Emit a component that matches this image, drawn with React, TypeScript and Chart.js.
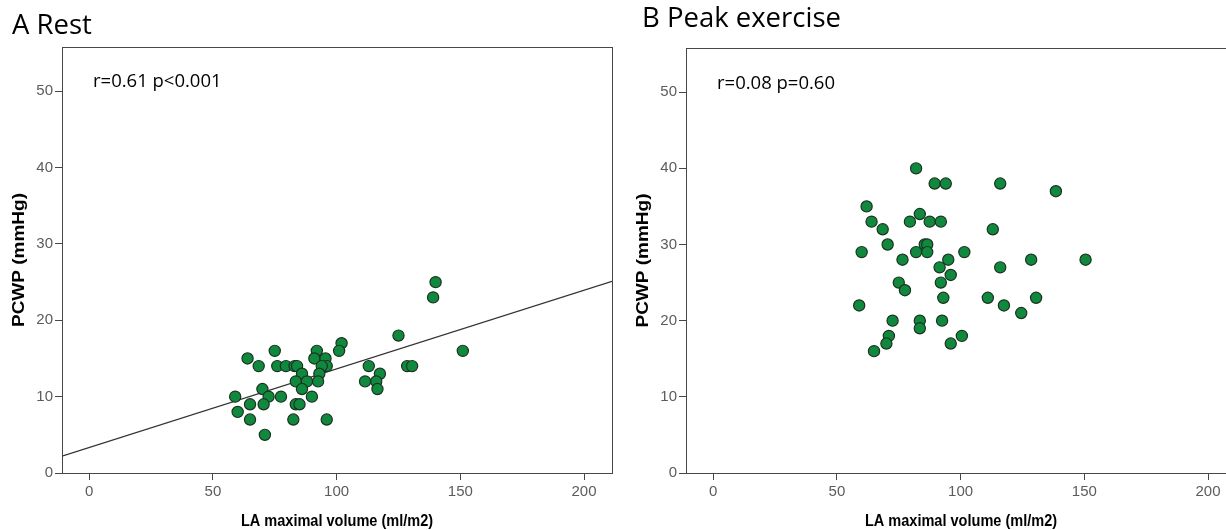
import React, { useEffect, useRef } from "react";
import { Chart, registerables } from "chart.js";

Chart.register(...registerables);

// ---- data ----
const restX = [140, 139, 125, 151, 102, 101, 92, 91, 95.5, 96, 94, 93, 92.5, 64, 75, 68.5, 76, 79.5, 83, 84, 86, 83.5, 88, 86, 70, 72.5, 77.5, 90, 59, 60, 65, 70.5, 83.5, 85, 65, 82.5, 96, 71, 113, 117.5, 111.5, 116, 116.5, 128.5, 130.5];
const restY = [25, 23, 18, 16, 17, 16, 16, 15, 15, 14, 14, 13, 12, 15, 16, 14, 14, 14, 14, 14, 13, 12, 12, 11, 11, 10, 10, 10, 10, 8, 9, 9, 9, 9, 7, 7, 7, 5, 14, 13, 12, 12, 11, 14, 14];

const peakX = [62, 64, 68.5, 70.5, 60, 76.5, 75, 77.5, 59, 72.5, 71, 70, 65, 82, 89.5, 94, 116, 138.5, 83.5, 79.5, 87.5, 92, 113, 85.5, 86.5, 82, 86.5, 101.5, 95, 128.5, 150.5, 91.5, 116, 96, 92, 93, 111, 130.5, 117.5, 124.5, 83.5, 83.5, 92.5, 100.5, 96];
const peakY = [35, 33, 32, 30, 29, 28, 25, 24, 22, 20, 18, 17, 16, 40, 38, 38, 38, 37, 34, 33, 33, 33, 32, 30, 30, 29, 29, 29, 28, 28, 28, 27, 27, 26, 25, 23, 23, 23, 22, 21, 20, 19, 20, 18, 17];

// regression line (rest) endpoints read at the plot edges
const restFitX = [-11, 211.3];
const restFitY = [2.2, 25.1];

const xTicks = [0, 50, 100, 150, 200];
const yTicks = [0, 10, 20, 30, 40, 50];

const X_MIN = -11;
const X_MAX = 211.3;
const Y_MIN = 0;
const Y_MAX = 55.8;

const X_TITLE = "LA maximal volume (ml/m2)";
const Y_TITLE = "PCWP (mmHg)";

const panelTextPlugin = {
  id: "panelText",
  afterDraw(chart: any, _args: any, opts: any) {
    const ctx = chart.ctx;
    const a = chart.chartArea;
    ctx.save();
    ctx.strokeStyle = "#474747";
    ctx.lineWidth = 1;
    ctx.strokeRect(Math.round(a.left) + 0.5, Math.round(a.top) + 0.5, Math.round(a.right - a.left), Math.round(a.bottom - a.top));
    ctx.fillStyle = "#000";
    ctx.textBaseline = "alphabetic";
    ctx.textAlign = "left";
    ctx.font = "27.5px 'Open Sans'";
    ctx.fillText(opts.title, opts.titleX, opts.titleY);
    ctx.font = "18.5px 'Open Sans'";
    ctx.fillText(opts.note, a.left + 31, opts.noteY);

    // axis titles
    ctx.textAlign = "center";
    ctx.textBaseline = "middle";
    ctx.font = "bold 17px 'Liberation Sans', Arial, sans-serif";
    ctx.save();
    ctx.translate((a.left + a.right) / 2, 521);
    ctx.scale(0.855, 1);
    ctx.fillText(X_TITLE, 0, 0);
    ctx.restore();

    ctx.font = "bold 19px 'Liberation Sans', Arial, sans-serif";
    ctx.save();
    ctx.translate(19, (a.top + a.bottom) / 2);
    ctx.rotate(-Math.PI / 2);
    ctx.scale(1, 0.88);
    ctx.fillText(Y_TITLE, 0, 0);
    ctx.restore();
    ctx.restore();
  },
};

type PanelProps = {
  xs: number[];
  ys: number[];
  fitX?: number[];
  fitY?: number[];
  title: string;
  titleX: number;
  titleY: number;
  note: string;
  noteY: number;
  top: number;
};

function Panel(props: PanelProps) {
  const ref = useRef<HTMLCanvasElement>(null);
  useEffect(() => {
    if (!ref.current) return;
    const pts = props.xs.map((x, i) => ({ x, y: props.ys[i] }));
    const datasets: any[] = [
      {
        type: "scatter",
        data: pts,
        backgroundColor: "#10893f",
        borderColor: "#1a3320",
        borderWidth: 1.2,
        pointRadius: 5.6,
        order: 0,
      },
    ];
    if (props.fitX && props.fitY) {
      datasets.push({
        type: "line",
        data: props.fitX.map((x, i) => ({ x, y: props.fitY![i] })),
        borderColor: "#333333",
        borderWidth: 1.3,
        pointRadius: 0,
        fill: false,
        order: 1,
      });
    }
    const tickFont = { family: "'Liberation Sans', Arial, sans-serif", size: 15 };
    const chart = new Chart(ref.current, {
      type: "scatter",
      data: { datasets },
      plugins: [panelTextPlugin],
      options: {
        animation: false,
        responsive: false,
        maintainAspectRatio: false,
        layout: { padding: { top: props.top, right: 12, left: 0, bottom: 0 } },
        plugins: {
          legend: { display: false },
          tooltip: { enabled: false },
          panelText: {
            title: props.title,
            titleX: props.titleX,
            titleY: props.titleY,
            note: props.note,
            noteY: props.noteY,
          },
        } as any,
        scales: {
          x: {
            type: "linear",
            min: X_MIN,
            max: X_MAX,
            afterBuildTicks: (s: any) => {
              s.ticks = xTicks.map((v) => ({ value: v }));
            },
            afterFit: (s: any) => {
              s.height = 57;
            },
            ticks: { color: "#5c5c5c", font: tickFont, padding: 3, maxRotation: 0, autoSkip: false },
            grid: { drawOnChartArea: false, drawTicks: true, tickLength: 7, color: "#474747" },
            border: { display: false },
            title: { display: false },
          },
          y: {
            type: "linear",
            min: Y_MIN,
            max: Y_MAX,
            afterBuildTicks: (s: any) => {
              s.ticks = yTicks.map((v) => ({ value: v }));
            },
            afterFit: (s: any) => {
              s.width = 62;
            },
            ticks: { color: "#5c5c5c", font: tickFont, padding: 2, autoSkip: false },
            grid: { drawOnChartArea: false, drawTicks: true, tickLength: 7, color: "#474747" },
            border: { display: false },
            title: { display: false },
          },
        },
      } as any,
    });
    return () => chart.destroy();
  }, []);
  return <canvas ref={ref} width={624} height={530} style={{ display: "block", width: 624, height: 530 }} />;
}

export default function App() {
  return (
    <div
      style={{
        position: "fixed",
        left: 0,
        top: 0,
        width: 1226,
        height: 530,
        overflow: "hidden",
        background: "#fff",
      }}
    >
      <div style={{ position: "absolute", left: 0, top: 0 }}>
        <Panel
          xs={restX}
          ys={restY}
          fitX={restFitX}
          fitY={restFitY}
          title="A Rest"
          titleX={12}
          titleY={34}
          note="r=0.61 p<0.001"
          noteY={87}
          top={47}
        />
      </div>
      <div style={{ position: "absolute", left: 624, top: 0 }}>
        <Panel
          xs={peakX}
          ys={peakY}
          title="B Peak exercise"
          titleX={18}
          titleY={27}
          note="r=0.08 p=0.60"
          noteY={89}
          top={48}
        />
      </div>
    </div>
  );
}
